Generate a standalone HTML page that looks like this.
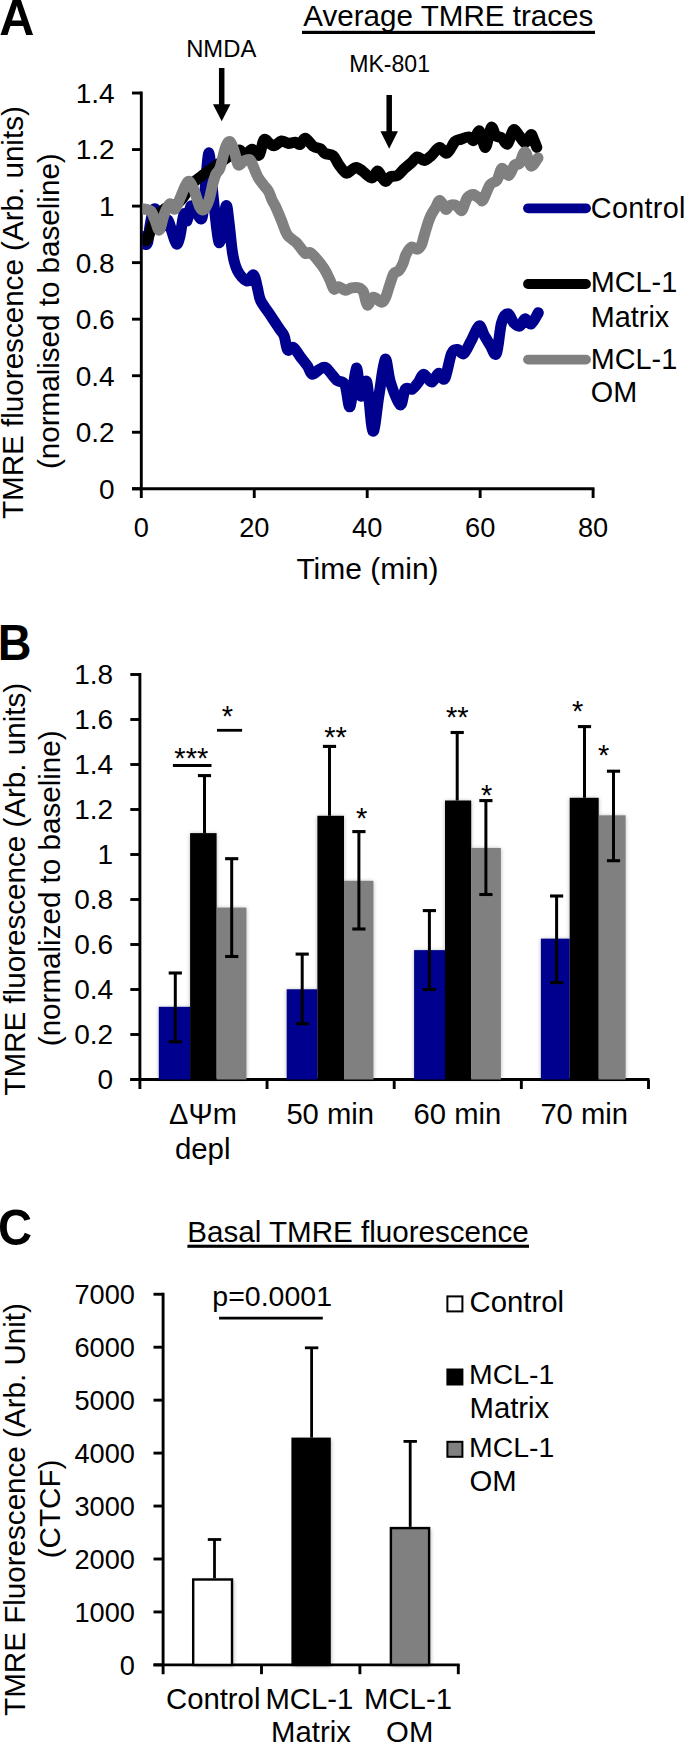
<!DOCTYPE html>
<html><head><meta charset="utf-8"><style>
html,body{margin:0;padding:0;background:#fff;}
svg{display:block;}
text{font-family:"Liberation Sans", sans-serif;fill:#000;}
</style></head><body>
<svg width="685" height="1745" viewBox="0 0 685 1745">
<defs><filter id="sh" x="-50%" y="-10%" width="200%" height="120%"><feGaussianBlur stdDeviation="2.2"/></filter>
<filter id="sh2" x="-50%" y="-10%" width="200%" height="120%"><feGaussianBlur stdDeviation="2.2"/></filter></defs>
<rect width="685" height="1745" fill="#fff"/>
<text transform="translate(-0.8,34.6) scale(1,1.04)" font-size="48.6" font-weight="bold">A</text>
<text x="303.3" y="26.3" font-size="29.6" text-anchor="start" font-weight="normal" >Average TMRE traces</text>
<rect x="302" y="30.8" width="293" height="3.2" fill="#000" />
<text x="186.2" y="57.2" font-size="23.8" text-anchor="start" font-weight="normal" >NMDA</text>
<rect x="218.95" y="68" width="5.5" height="37.2" fill="#000" />
<polygon points="212.95,104.2 230.45,104.2 221.7,121.3" fill="#000"/>
<text x="349.2" y="72.1" font-size="23.1" text-anchor="start" font-weight="normal" >MK-801</text>
<rect x="386.45" y="95" width="5.5" height="37.19999999999999" fill="#000" />
<polygon points="380.45,131.2 397.95,131.2 389.2,148.8" fill="#000"/>
<line x1="141.3" y1="91.62000000000009" x2="141.3" y2="498.0" stroke="#000" stroke-width="2.9" stroke-linecap="butt"/>
<line x1="132" y1="488.8" x2="594.5" y2="488.8" stroke="#000" stroke-width="2.9" stroke-linecap="butt"/>
<line x1="132" y1="488.8" x2="141.3" y2="488.8" stroke="#000" stroke-width="2.9" stroke-linecap="butt"/>
<text x="114.7" y="498.7" font-size="28" text-anchor="end" font-weight="normal" >0</text>
<line x1="132" y1="432.26" x2="141.3" y2="432.26" stroke="#000" stroke-width="2.9" stroke-linecap="butt"/>
<text x="114.7" y="442.15999999999997" font-size="28" text-anchor="end" font-weight="normal" >0.2</text>
<line x1="132" y1="375.72" x2="141.3" y2="375.72" stroke="#000" stroke-width="2.9" stroke-linecap="butt"/>
<text x="114.7" y="385.62" font-size="28" text-anchor="end" font-weight="normal" >0.4</text>
<line x1="132" y1="319.17999999999995" x2="141.3" y2="319.17999999999995" stroke="#000" stroke-width="2.9" stroke-linecap="butt"/>
<text x="114.7" y="329.0799999999999" font-size="28" text-anchor="end" font-weight="normal" >0.6</text>
<line x1="132" y1="262.64" x2="141.3" y2="262.64" stroke="#000" stroke-width="2.9" stroke-linecap="butt"/>
<text x="114.7" y="272.53999999999996" font-size="28" text-anchor="end" font-weight="normal" >0.8</text>
<line x1="132" y1="206.10000000000002" x2="141.3" y2="206.10000000000002" stroke="#000" stroke-width="2.9" stroke-linecap="butt"/>
<text x="114.7" y="216.00000000000003" font-size="28" text-anchor="end" font-weight="normal" >1</text>
<line x1="132" y1="149.55999999999995" x2="141.3" y2="149.55999999999995" stroke="#000" stroke-width="2.9" stroke-linecap="butt"/>
<text x="114.7" y="159.45999999999995" font-size="28" text-anchor="end" font-weight="normal" >1.2</text>
<line x1="132" y1="93.02000000000004" x2="141.3" y2="93.02000000000004" stroke="#000" stroke-width="2.9" stroke-linecap="butt"/>
<text x="114.7" y="102.92000000000004" font-size="28" text-anchor="end" font-weight="normal" >1.4</text>
<line x1="254.25" y1="488.8" x2="254.25" y2="498.0" stroke="#000" stroke-width="2.9" stroke-linecap="butt"/>
<line x1="367.20000000000005" y1="488.8" x2="367.20000000000005" y2="498.0" stroke="#000" stroke-width="2.9" stroke-linecap="butt"/>
<line x1="480.15000000000003" y1="488.8" x2="480.15000000000003" y2="498.0" stroke="#000" stroke-width="2.9" stroke-linecap="butt"/>
<line x1="593.1" y1="488.8" x2="593.1" y2="498.0" stroke="#000" stroke-width="2.9" stroke-linecap="butt"/>
<text x="141.3" y="537.3" font-size="27.2" text-anchor="middle" font-weight="normal" >0</text>
<text x="254.25" y="537.3" font-size="27.2" text-anchor="middle" font-weight="normal" >20</text>
<text x="367.20000000000005" y="537.3" font-size="27.2" text-anchor="middle" font-weight="normal" >40</text>
<text x="480.15000000000003" y="537.3" font-size="27.2" text-anchor="middle" font-weight="normal" >60</text>
<text x="593.1" y="537.3" font-size="27.2" text-anchor="middle" font-weight="normal" >80</text>
<text x="296.4" y="579.3" font-size="30" text-anchor="start" font-weight="normal" >Time (min)</text>
<text transform="translate(23.2,312.6) rotate(-90)" font-size="29.6" text-anchor="middle">TMRE fluorescence (Arb. units)</text>
<text transform="translate(59.2,311.2) rotate(-90)" font-size="29.6" text-anchor="middle">(normalised to baseline)</text>
<clipPath id="pa"><rect x="142.4" y="0" width="410" height="600"/></clipPath><g clip-path="url(#pa)">
<path d="M141.3,236 C141.8,237.2 143.0,241.8 144,243 C145.0,244.2 146.5,245.8 147.5,243 C148.5,240.2 149.0,231.5 150,226 C151.0,220.5 152.3,212.5 153.5,210 C154.7,207.5 155.9,209.0 157,211 C158.1,213.0 158.8,219.5 160,222 C161.2,224.5 162.7,226.3 164,226 C165.3,225.7 166.7,219.0 168,220 C169.3,221.0 170.6,228.0 172,232 C173.4,236.0 175.2,243.3 176.5,244 C177.8,244.7 178.8,241.0 180,236 C181.2,231.0 182.8,216.5 184,214 C185.2,211.5 185.8,222.3 187,221 C188.2,219.7 189.5,207.5 191,206 C192.5,204.5 194.2,210.0 196,212 C197.8,214.0 200.5,221.7 202,218 C203.5,214.3 203.8,200.8 205,190 C206.2,179.2 207.7,152.2 209,153 C210.3,153.8 211.5,180.8 213,195 C214.5,209.2 216.7,230.8 218,238 C219.3,245.2 219.7,243.3 221,238 C222.3,232.7 224.7,208.7 226,206 C227.3,203.3 227.9,214.0 229,222 C230.1,230.0 231.3,245.9 232.7,254 C234.1,262.1 235.1,265.9 237.4,270.4 C239.7,274.9 244.0,280.1 246.7,280.9 C249.4,281.7 251.9,274.0 253.7,275 C255.4,276.0 256.0,282.4 257.2,286.7 C258.4,291.0 258.5,296.0 260.7,300.7 C262.9,305.4 267.0,310.0 270.1,314.7 C273.2,319.4 277.1,325.3 279.4,328.8 C281.7,332.3 282.7,332.3 284.1,335.8 C285.5,339.3 286.1,347.9 287.6,349.8 C289.2,351.8 291.3,346.3 293.4,347.5 C295.5,348.7 298.0,353.7 300.4,356.8 C302.8,359.9 305.6,363.2 307.5,366.1 C309.4,369.0 310.2,373.7 312.1,374.3 C314.0,374.9 317.0,370.8 319.1,369.6 C321.2,368.4 323.1,366.7 325,367.3 C326.9,367.9 328.8,370.9 330.8,373.1 C332.8,375.3 334.6,378.4 337,380.4 C339.4,382.3 342.7,380.4 344.9,384.8 C347.1,389.2 348.2,409.4 350.1,406.6 C352.0,403.8 354.5,369.9 356.3,368.1 C358.1,366.4 358.9,393.8 360.7,396.1 C362.4,398.4 364.8,376.2 366.8,382.1 C368.8,388.0 370.9,429.1 372.9,431.2 C374.9,433.3 376.9,407.0 379,395 C381.1,383.0 383.3,361.4 385.2,359.3 C387.1,357.2 387.9,374.5 390.4,382.1 C392.9,389.7 397.6,403.7 400.1,404.9 C402.6,406.1 403.3,391.7 405.3,389.1 C407.3,386.5 410.1,390.3 412.3,389.1 C414.5,387.9 416.6,384.6 418.5,382.1 C420.4,379.6 421.5,374.2 423.7,374.2 C425.9,374.2 429.1,382.2 431.6,382.1 C434.1,382.0 436.4,374.0 438.6,373.4 C440.8,372.8 442.7,381.9 444.8,378.6 C446.9,375.3 449.4,358.5 451.5,353.6 C453.6,348.8 455.6,349.5 457.6,349.5 C459.6,349.5 461.5,355.0 463.7,353.6 C465.9,352.2 468.3,345.9 470.9,341.3 C473.4,336.7 476.8,327.0 479,326 C481.2,325.0 482.3,332.0 484.2,335.2 C486.1,338.4 488.3,342.3 490.3,345.4 C492.3,348.5 494.5,357.4 496.4,353.6 C498.3,349.9 499.6,329.5 501.5,322.9 C503.4,316.2 505.6,313.7 507.7,313.7 C509.8,313.7 511.8,320.8 513.8,322.9 C515.8,324.9 518.0,326.7 519.9,326 C521.8,325.3 523.1,319.2 525,318.8 C526.9,318.4 529.0,324.9 531.2,323.9 C533.4,322.9 537.1,314.6 538.3,312.7" fill="none" stroke="#00008e" stroke-width="11.0" stroke-linejoin="round" stroke-linecap="round"/>
<path d="M141.3,239 C141.4,238.8 141.1,237.8 142,238 C142.9,238.2 145.3,242.0 147,240 C148.7,238.0 150.5,230.0 152,226 C153.5,222.0 154.7,218.2 156,216 C157.3,213.8 158.3,214.3 160,213 C161.7,211.7 163.5,209.3 166,208 C168.5,206.7 172.3,206.5 175,205 C177.7,203.5 179.8,201.5 182,199 C184.2,196.5 186.2,192.7 188,190 C189.8,187.3 191.5,184.8 193,183 C194.5,181.2 195.3,180.8 197,179.5 C198.7,178.2 201.0,176.5 203,175 C205.0,173.5 207.0,171.9 209,170.5 C211.0,169.1 213.0,167.9 215,166.5 C217.0,165.1 218.8,163.6 221,162 C223.2,160.4 225.8,158.3 228,157 C230.2,155.7 232.1,155.2 234,154 C235.9,152.8 237.7,149.8 239.5,150 C241.3,150.2 242.9,155.1 245,155 C247.1,154.9 249.8,149.2 252.2,149.2 C254.6,149.2 257.2,156.6 259.2,155 C261.1,153.4 262.1,141.8 263.9,139.9 C265.6,138.0 267.9,142.4 269.7,143.4 C271.4,144.4 272.4,146.1 274.4,145.7 C276.3,145.3 279.1,141.4 281.4,141 C283.7,140.6 286.1,143.2 288.4,143.4 C290.7,143.6 293.4,142.0 295.4,142.2 C297.3,142.4 298.5,145.2 300.1,144.5 C301.7,143.8 303.0,137.9 305.2,138.2 C307.4,138.5 310.9,144.7 313.4,146.4 C315.9,148.2 318.5,147.5 320.4,148.7 C322.3,149.9 322.9,152.2 325,153.4 C327.1,154.6 330.9,153.8 333.2,155.7 C335.5,157.6 336.9,162.1 339,165 C341.1,167.9 344.0,172.4 346.1,173.2 C348.2,174.0 350.1,170.7 351.9,169.7 C353.6,168.7 354.9,167.2 356.6,167.4 C358.4,167.6 359.9,169.2 362.4,170.9 C364.9,172.7 369.3,177.9 371.8,177.9 C374.3,177.9 375.9,170.9 377.6,170.9 C379.4,170.9 380.9,176.2 382.3,177.9 C383.7,179.7 384.5,181.6 385.8,181.4 C387.1,181.2 388.4,177.7 390.4,176.7 C392.3,175.7 395.1,176.9 397.5,175.5 C399.9,174.1 402.2,170.6 404.5,168.5 C406.8,166.4 409.4,164.6 411.5,162.7 C413.6,160.8 415.2,157.3 417.3,156.9 C419.4,156.5 422.0,160.6 424.3,160.4 C426.6,160.2 428.8,157.8 431.3,155.7 C433.8,153.5 436.9,147.9 439.5,147.5 C442.1,147.1 444.3,154.2 446.9,153.2 C449.5,152.2 452.7,143.8 455,141.5 C457.3,139.2 458.6,140.0 460.9,139.2 C463.2,138.4 466.9,136.7 469,136.9 C471.1,137.1 471.9,141.4 473.7,140.4 C475.5,139.4 477.7,129.8 479.6,131 C481.6,132.2 483.5,148.0 485.4,147.4 C487.3,146.8 489.4,129.4 491.2,127.5 C492.9,125.5 494.1,133.9 495.9,135.7 C497.7,137.4 499.9,136.6 501.8,138 C503.8,139.4 505.7,145.2 507.6,143.9 C509.5,142.6 511.4,131.3 513.4,129.9 C515.3,128.5 517.3,133.6 519.3,135.7 C521.2,137.8 523.1,142.9 525.1,142.7 C527.1,142.5 529.5,134.9 531,134.5 C532.5,134.1 533.0,138.2 534,140.4 C535.0,142.6 536.3,146.2 536.8,147.4" fill="none" stroke="#000" stroke-width="11.0" stroke-linejoin="round" stroke-linecap="round"/>
<path d="M141.3,209 C141.8,209.0 142.4,208.7 144,209 C145.6,209.3 149.0,209.2 150.8,211 C152.6,212.8 153.6,216.8 155,220 C156.4,223.2 157.9,230.8 159.4,230 C160.9,229.2 162.3,219.3 164,215 C165.7,210.7 167.7,205.0 169.5,204 C171.3,203.0 173.1,210.3 175,209 C176.9,207.7 178.8,200.6 181,196 C183.2,191.4 185.8,182.5 188,181.5 C190.2,180.5 192.1,185.8 194,190 C195.9,194.2 198.0,203.6 199.7,206.8 C201.4,210.0 202.4,210.5 204,209.4 C205.6,208.3 207.5,204.4 209,200 C210.5,195.6 211.8,187.3 213,183 C214.2,178.7 214.8,176.5 216,174 C217.2,171.5 218.4,172.4 220,168 C221.6,163.6 223.8,151.9 225.5,147.5 C227.2,143.1 228.6,140.7 230.2,141.7 C231.8,142.7 233.6,149.5 234.9,153.4 C236.2,157.3 236.8,163.8 238.3,165 C239.8,166.2 242.1,161.8 244,160.9 C245.9,160.0 248.3,158.7 249.9,159.7 C251.5,160.7 252.1,163.8 253.4,166.7 C254.8,169.6 256.2,174.1 258,177.2 C259.8,180.3 262.1,183.1 263.9,185.4 C265.6,187.7 267.1,188.8 268.5,191.2 C269.9,193.6 270.8,197.3 272,200 C273.2,202.7 274.2,203.6 275.8,207.1 C277.4,210.6 279.8,216.4 281.7,221.1 C283.6,225.8 285.1,231.6 287.5,235.1 C289.9,238.6 293.7,240.1 295.8,242.1 C297.9,244.1 298.4,245.1 300,247 C301.6,248.9 303.6,252.4 305.3,253.4 C307.1,254.4 308.5,251.7 310.5,252.8 C312.5,253.9 315.2,257.2 317.5,259.9 C319.8,262.6 322.4,265.9 324.5,269.2 C326.6,272.5 328.2,276.4 329.8,279.7 C331.4,283.0 332.4,287.8 333.9,289 C335.3,290.2 336.6,286.5 338.5,286.7 C340.4,286.9 343.4,290.0 345.5,290.2 C347.6,290.4 349.1,288.3 351.4,287.9 C353.6,287.5 357.0,287.2 359,287.9 C361.0,288.6 362.1,289.1 363.5,292 C364.9,294.9 365.7,304.1 367.3,305 C368.9,305.9 371.0,297.6 373.4,297.2 C375.8,296.8 379.6,302.3 381.6,302.3 C383.7,302.3 384.4,300.1 385.7,297.2 C387.0,294.3 388.3,288.9 389.7,285 C391.1,281.1 392.3,276.1 393.8,273.7 C395.3,271.3 397.4,272.4 398.9,270.7 C400.4,269.0 401.8,266.2 403,263.5 C404.2,260.8 404.7,257.0 406.1,254.3 C407.5,251.6 409.3,248.0 411.2,247.2 C413.1,246.3 415.6,249.6 417.3,249.2 C419.0,248.8 420.3,247.1 421.4,245 C422.5,242.9 422.7,240.7 423.8,236.9 C424.9,233.1 427.0,226.0 428.2,222.3 C429.4,218.7 429.9,217.4 431.1,215 C432.3,212.6 434.0,210.1 435.5,207.7 C437.0,205.3 438.2,200.2 439.9,200.4 C441.6,200.7 444.2,208.3 445.7,209.2 C447.2,210.1 447.8,206.7 449,206 C450.2,205.3 451.7,204.8 453,204.8 C454.3,204.8 455.5,205.0 457,206 C458.5,207.0 460.5,211.2 461.8,210.7 C463.1,210.2 464.0,205.2 465,203 C466.0,200.8 466.2,198.9 467.6,197.5 C469.0,196.1 471.3,194.3 473.4,194.6 C475.5,194.8 478.4,198.1 480,199 C481.6,199.9 481.4,202.3 483.1,199.9 C484.8,197.5 487.8,188.0 490.1,184.7 C492.4,181.4 495.2,182.8 497.1,180.1 C499.1,177.4 499.9,169.2 501.8,168.4 C503.8,167.6 506.7,176.0 508.8,175.4 C510.9,174.8 512.9,166.9 514.6,164.9 C516.4,162.9 517.5,165.8 519.3,163.7 C521.0,161.5 523.1,151.6 525.1,152 C527.1,152.4 528.9,165.0 531,166 C533.1,167.0 536.8,159.2 538,157.9" fill="none" stroke="#808080" stroke-width="11.0" stroke-linejoin="round" stroke-linecap="round"/>
</g>
<line x1="528" y1="208.3" x2="586" y2="208.3" stroke="#00008e" stroke-width="9.8" stroke-linecap="round"/>
<line x1="528" y1="284" x2="586" y2="284" stroke="#000" stroke-width="9.8" stroke-linecap="round"/>
<line x1="528" y1="359.6" x2="586" y2="359.6" stroke="#808080" stroke-width="9.8" stroke-linecap="round"/>
<text x="590.8" y="217.6" font-size="28.8" text-anchor="start" font-weight="normal" letter-spacing="0.3">Control</text>
<text x="590.8" y="292.4" font-size="28.8" text-anchor="start" font-weight="normal" >MCL-1</text>
<text x="590.8" y="326.8" font-size="28.8" text-anchor="start" font-weight="normal" >Matrix</text>
<text x="590.8" y="368.6" font-size="28.8" text-anchor="start" font-weight="normal" >MCL-1</text>
<text x="590.8" y="402.4" font-size="28.8" text-anchor="start" font-weight="normal" >OM</text>
<text transform="translate(-2.2,659.5) scale(1,1.05)" font-size="46.7" font-weight="bold">B</text>
<line x1="139.9" y1="673.1" x2="139.9" y2="1089.0" stroke="#000" stroke-width="2.9" stroke-linecap="butt"/>
<line x1="130.3" y1="1079.5" x2="649.4" y2="1079.5" stroke="#000" stroke-width="2.9" stroke-linecap="butt"/>
<line x1="130.3" y1="1079.5" x2="139.9" y2="1079.5" stroke="#000" stroke-width="2.9" stroke-linecap="butt"/>
<text x="113.1" y="1089.1" font-size="28" text-anchor="end" font-weight="normal" >0</text>
<line x1="130.3" y1="1034.5" x2="139.9" y2="1034.5" stroke="#000" stroke-width="2.9" stroke-linecap="butt"/>
<text x="113.1" y="1044.1" font-size="28" text-anchor="end" font-weight="normal" >0.2</text>
<line x1="130.3" y1="989.5" x2="139.9" y2="989.5" stroke="#000" stroke-width="2.9" stroke-linecap="butt"/>
<text x="113.1" y="999.1" font-size="28" text-anchor="end" font-weight="normal" >0.4</text>
<line x1="130.3" y1="944.5" x2="139.9" y2="944.5" stroke="#000" stroke-width="2.9" stroke-linecap="butt"/>
<text x="113.1" y="954.1" font-size="28" text-anchor="end" font-weight="normal" >0.6</text>
<line x1="130.3" y1="899.5" x2="139.9" y2="899.5" stroke="#000" stroke-width="2.9" stroke-linecap="butt"/>
<text x="113.1" y="909.1" font-size="28" text-anchor="end" font-weight="normal" >0.8</text>
<line x1="130.3" y1="854.5" x2="139.9" y2="854.5" stroke="#000" stroke-width="2.9" stroke-linecap="butt"/>
<text x="113.1" y="864.1" font-size="28" text-anchor="end" font-weight="normal" >1</text>
<line x1="130.3" y1="809.5" x2="139.9" y2="809.5" stroke="#000" stroke-width="2.9" stroke-linecap="butt"/>
<text x="113.1" y="819.1" font-size="28" text-anchor="end" font-weight="normal" >1.2</text>
<line x1="130.3" y1="764.5" x2="139.9" y2="764.5" stroke="#000" stroke-width="2.9" stroke-linecap="butt"/>
<text x="113.1" y="774.1" font-size="28" text-anchor="end" font-weight="normal" >1.4</text>
<line x1="130.3" y1="719.5" x2="139.9" y2="719.5" stroke="#000" stroke-width="2.9" stroke-linecap="butt"/>
<text x="113.1" y="729.1" font-size="28" text-anchor="end" font-weight="normal" >1.6</text>
<line x1="130.3" y1="674.5" x2="139.9" y2="674.5" stroke="#000" stroke-width="2.9" stroke-linecap="butt"/>
<text x="113.1" y="684.1" font-size="28" text-anchor="end" font-weight="normal" >1.8</text>
<line x1="267.05" y1="1079.5" x2="267.05" y2="1089.0" stroke="#000" stroke-width="2.9" stroke-linecap="butt"/>
<line x1="394.20000000000005" y1="1079.5" x2="394.20000000000005" y2="1089.0" stroke="#000" stroke-width="2.9" stroke-linecap="butt"/>
<line x1="521.35" y1="1079.5" x2="521.35" y2="1089.0" stroke="#000" stroke-width="2.9" stroke-linecap="butt"/>
<line x1="648.5" y1="1079.5" x2="648.5" y2="1089.0" stroke="#000" stroke-width="2.9" stroke-linecap="butt"/>
<text transform="translate(24.6,889.3) rotate(-90)" font-size="29.6" text-anchor="middle">TMRE fluorescence (Arb. units)</text>
<text transform="translate(60.1,888.3) rotate(-90)" font-size="29.6" text-anchor="middle">(normalized to baseline)</text>
<rect x="158.8" y="1007.325" width="31.299999999999983" height="72.17499999999995" fill="#000" opacity="0.28" filter="url(#sh2)"/>
<rect x="190.1" y="833.625" width="26.5" height="245.875" fill="#000" opacity="0.28" filter="url(#sh2)"/>
<rect x="216.6" y="908.1" width="29.80000000000001" height="171.39999999999998" fill="#000" opacity="0.28" filter="url(#sh2)"/>
<rect x="286.7" y="989.775" width="30.69999999999999" height="89.72500000000002" fill="#000" opacity="0.28" filter="url(#sh2)"/>
<rect x="317.4" y="816.3" width="26.600000000000023" height="263.20000000000005" fill="#000" opacity="0.28" filter="url(#sh2)"/>
<rect x="344" y="881.325" width="29.399999999999977" height="198.17499999999995" fill="#000" opacity="0.28" filter="url(#sh2)"/>
<rect x="414.1" y="950.625" width="30.899999999999977" height="128.875" fill="#000" opacity="0.28" filter="url(#sh2)"/>
<rect x="445" y="801.0" width="26.19999999999999" height="278.5" fill="#000" opacity="0.28" filter="url(#sh2)"/>
<rect x="471.2" y="848.475" width="29.69999999999999" height="231.02499999999998" fill="#000" opacity="0.28" filter="url(#sh2)"/>
<rect x="540.9" y="939.15" width="28.800000000000068" height="140.35000000000002" fill="#000" opacity="0.28" filter="url(#sh2)"/>
<rect x="569.7" y="798.3" width="29.0" height="281.20000000000005" fill="#000" opacity="0.28" filter="url(#sh2)"/>
<rect x="598.7" y="815.85" width="26.899999999999977" height="263.65" fill="#000" opacity="0.28" filter="url(#sh2)"/>
<rect x="158.8" y="1006.825" width="31.299999999999983" height="72.67499999999995" fill="#00008e" />
<rect x="190.1" y="833.125" width="26.5" height="246.375" fill="#000" />
<rect x="216.6" y="907.6" width="29.80000000000001" height="171.89999999999998" fill="#808080" />
<line x1="175.3" y1="973" x2="175.3" y2="1041.8" stroke="#000" stroke-width="3.0" stroke-linecap="butt"/>
<line x1="168.70000000000002" y1="973" x2="181.9" y2="973" stroke="#000" stroke-width="3.1" stroke-linecap="butt"/>
<line x1="168.70000000000002" y1="1041.8" x2="181.9" y2="1041.8" stroke="#000" stroke-width="3.1" stroke-linecap="butt"/>
<line x1="204.5" y1="775.6" x2="204.5" y2="833.125" stroke="#000" stroke-width="3.0" stroke-linecap="butt"/>
<line x1="197.9" y1="775.6" x2="211.1" y2="775.6" stroke="#000" stroke-width="3.1" stroke-linecap="butt"/>
<line x1="231.7" y1="858.7" x2="231.7" y2="956.5" stroke="#000" stroke-width="3.0" stroke-linecap="butt"/>
<line x1="225.1" y1="858.7" x2="238.29999999999998" y2="858.7" stroke="#000" stroke-width="3.1" stroke-linecap="butt"/>
<line x1="225.1" y1="956.5" x2="238.29999999999998" y2="956.5" stroke="#000" stroke-width="3.1" stroke-linecap="butt"/>
<rect x="286.7" y="989.275" width="30.69999999999999" height="90.22500000000002" fill="#00008e" />
<rect x="317.4" y="815.8" width="26.600000000000023" height="263.70000000000005" fill="#000" />
<rect x="344" y="880.825" width="29.399999999999977" height="198.67499999999995" fill="#808080" />
<line x1="302.2" y1="954.1" x2="302.2" y2="1023.7" stroke="#000" stroke-width="3.0" stroke-linecap="butt"/>
<line x1="295.59999999999997" y1="954.1" x2="308.8" y2="954.1" stroke="#000" stroke-width="3.1" stroke-linecap="butt"/>
<line x1="295.59999999999997" y1="1023.7" x2="308.8" y2="1023.7" stroke="#000" stroke-width="3.1" stroke-linecap="butt"/>
<line x1="329.5" y1="746.4" x2="329.5" y2="815.8" stroke="#000" stroke-width="3.0" stroke-linecap="butt"/>
<line x1="322.9" y1="746.4" x2="336.1" y2="746.4" stroke="#000" stroke-width="3.1" stroke-linecap="butt"/>
<line x1="358.9" y1="831.6" x2="358.9" y2="929" stroke="#000" stroke-width="3.0" stroke-linecap="butt"/>
<line x1="352.29999999999995" y1="831.6" x2="365.5" y2="831.6" stroke="#000" stroke-width="3.1" stroke-linecap="butt"/>
<line x1="352.29999999999995" y1="929" x2="365.5" y2="929" stroke="#000" stroke-width="3.1" stroke-linecap="butt"/>
<rect x="414.1" y="950.125" width="30.899999999999977" height="129.375" fill="#00008e" />
<rect x="445" y="800.5" width="26.19999999999999" height="279.0" fill="#000" />
<rect x="471.2" y="847.975" width="29.69999999999999" height="231.52499999999998" fill="#808080" />
<line x1="429.4" y1="910.6" x2="429.4" y2="989.5" stroke="#000" stroke-width="3.0" stroke-linecap="butt"/>
<line x1="422.79999999999995" y1="910.6" x2="436.0" y2="910.6" stroke="#000" stroke-width="3.1" stroke-linecap="butt"/>
<line x1="422.79999999999995" y1="989.5" x2="436.0" y2="989.5" stroke="#000" stroke-width="3.1" stroke-linecap="butt"/>
<line x1="457.2" y1="732.5" x2="457.2" y2="800.5" stroke="#000" stroke-width="3.0" stroke-linecap="butt"/>
<line x1="450.59999999999997" y1="732.5" x2="463.8" y2="732.5" stroke="#000" stroke-width="3.1" stroke-linecap="butt"/>
<line x1="485.9" y1="800.6" x2="485.9" y2="894.5" stroke="#000" stroke-width="3.0" stroke-linecap="butt"/>
<line x1="479.29999999999995" y1="800.6" x2="492.5" y2="800.6" stroke="#000" stroke-width="3.1" stroke-linecap="butt"/>
<line x1="479.29999999999995" y1="894.5" x2="492.5" y2="894.5" stroke="#000" stroke-width="3.1" stroke-linecap="butt"/>
<rect x="540.9" y="938.65" width="28.800000000000068" height="140.85000000000002" fill="#00008e" />
<rect x="569.7" y="797.8" width="29.0" height="281.70000000000005" fill="#000" />
<rect x="598.7" y="815.35" width="26.899999999999977" height="264.15" fill="#808080" />
<line x1="556.6" y1="896" x2="556.6" y2="982.6" stroke="#000" stroke-width="3.0" stroke-linecap="butt"/>
<line x1="550.0" y1="896" x2="563.2" y2="896" stroke="#000" stroke-width="3.1" stroke-linecap="butt"/>
<line x1="550.0" y1="982.6" x2="563.2" y2="982.6" stroke="#000" stroke-width="3.1" stroke-linecap="butt"/>
<line x1="584.5" y1="726.6" x2="584.5" y2="797.8" stroke="#000" stroke-width="3.0" stroke-linecap="butt"/>
<line x1="577.9" y1="726.6" x2="591.1" y2="726.6" stroke="#000" stroke-width="3.1" stroke-linecap="butt"/>
<line x1="613.5" y1="771.2" x2="613.5" y2="860.7" stroke="#000" stroke-width="3.0" stroke-linecap="butt"/>
<line x1="606.9" y1="771.2" x2="620.1" y2="771.2" stroke="#000" stroke-width="3.1" stroke-linecap="butt"/>
<line x1="606.9" y1="860.7" x2="620.1" y2="860.7" stroke="#000" stroke-width="3.1" stroke-linecap="butt"/>
<text x="203" y="1123.6" font-size="29" text-anchor="middle" font-weight="normal" >&#916;&#936;m</text>
<text x="202.7" y="1159.4" font-size="29.4" text-anchor="middle" font-weight="normal" >depl</text>
<text x="330.2" y="1124.3" font-size="29.2" text-anchor="middle" font-weight="normal" >50 min</text>
<text x="457.4" y="1124.3" font-size="29.2" text-anchor="middle" font-weight="normal" >60 min</text>
<text x="584.2" y="1124.3" font-size="29.2" text-anchor="middle" font-weight="normal" >70 min</text>
<line x1="172.9" y1="765.5" x2="211.5" y2="765.5" stroke="#000" stroke-width="2.8" stroke-linecap="butt"/>
<line x1="217" y1="730.3" x2="242.1" y2="730.3" stroke="#000" stroke-width="2.8" stroke-linecap="butt"/>
<text x="191.3" y="767.5" font-size="29" text-anchor="middle" font-weight="normal" >***</text>
<text x="227.3" y="725.9" font-size="29" text-anchor="middle" font-weight="normal" >*</text>
<text x="335.5" y="747.0" font-size="29" text-anchor="middle" font-weight="normal" >**</text>
<text x="361.7" y="827.8" font-size="29" text-anchor="middle" font-weight="normal" >*</text>
<text x="457.3" y="726.8" font-size="29" text-anchor="middle" font-weight="normal" >**</text>
<text x="486.7" y="804.8" font-size="29" text-anchor="middle" font-weight="normal" >*</text>
<text x="577.7" y="721.3" font-size="29" text-anchor="middle" font-weight="normal" >*</text>
<text x="603.7" y="764.5" font-size="29" text-anchor="middle" font-weight="normal" >*</text>
<text transform="translate(-1.9,1244.8) scale(1,1.07)" font-size="47.2" font-weight="bold">C</text>
<text x="187.2" y="1241.9" font-size="29.6" text-anchor="start" font-weight="normal" >Basal TMRE fluorescence</text>
<rect x="187.4" y="1244.7" width="341.6" height="3.1" fill="#000" />
<line x1="163.1" y1="1292.85" x2="163.1" y2="1674.2" stroke="#000" stroke-width="2.9" stroke-linecap="butt"/>
<line x1="153.5" y1="1664.9" x2="459.7" y2="1664.9" stroke="#000" stroke-width="2.9" stroke-linecap="butt"/>
<line x1="153.5" y1="1664.9" x2="163.1" y2="1664.9" stroke="#000" stroke-width="2.9" stroke-linecap="butt"/>
<text x="134.9" y="1674.6000000000001" font-size="27.2" text-anchor="end" font-weight="normal" >0</text>
<line x1="153.5" y1="1611.95" x2="163.1" y2="1611.95" stroke="#000" stroke-width="2.9" stroke-linecap="butt"/>
<text x="134.9" y="1621.65" font-size="27.2" text-anchor="end" font-weight="normal" >1000</text>
<line x1="153.5" y1="1559.0" x2="163.1" y2="1559.0" stroke="#000" stroke-width="2.9" stroke-linecap="butt"/>
<text x="134.9" y="1568.7" font-size="27.2" text-anchor="end" font-weight="normal" >2000</text>
<line x1="153.5" y1="1506.0500000000002" x2="163.1" y2="1506.0500000000002" stroke="#000" stroke-width="2.9" stroke-linecap="butt"/>
<text x="134.9" y="1515.7500000000002" font-size="27.2" text-anchor="end" font-weight="normal" >3000</text>
<line x1="153.5" y1="1453.1000000000001" x2="163.1" y2="1453.1000000000001" stroke="#000" stroke-width="2.9" stroke-linecap="butt"/>
<text x="134.9" y="1462.8000000000002" font-size="27.2" text-anchor="end" font-weight="normal" >4000</text>
<line x1="153.5" y1="1400.15" x2="163.1" y2="1400.15" stroke="#000" stroke-width="2.9" stroke-linecap="butt"/>
<text x="134.9" y="1409.8500000000001" font-size="27.2" text-anchor="end" font-weight="normal" >5000</text>
<line x1="153.5" y1="1347.2" x2="163.1" y2="1347.2" stroke="#000" stroke-width="2.9" stroke-linecap="butt"/>
<text x="134.9" y="1356.9" font-size="27.2" text-anchor="end" font-weight="normal" >6000</text>
<line x1="153.5" y1="1294.25" x2="163.1" y2="1294.25" stroke="#000" stroke-width="2.9" stroke-linecap="butt"/>
<text x="134.9" y="1303.95" font-size="27.2" text-anchor="end" font-weight="normal" >7000</text>
<line x1="261.5" y1="1664.9" x2="261.5" y2="1674.2" stroke="#000" stroke-width="2.9" stroke-linecap="butt"/>
<line x1="359.9" y1="1664.9" x2="359.9" y2="1674.2" stroke="#000" stroke-width="2.9" stroke-linecap="butt"/>
<line x1="458.30000000000007" y1="1664.9" x2="458.30000000000007" y2="1674.2" stroke="#000" stroke-width="2.9" stroke-linecap="butt"/>
<text transform="translate(24.8,1509.5) rotate(-90)" font-size="29.6" text-anchor="middle">TMRE Fluorescence (Arb. Unit)</text>
<text transform="translate(60.2,1509) rotate(-90)" font-size="29.6" text-anchor="middle">(CTCF)</text>
<rect x="194.7" y="1580.5" width="38.79999999999999" height="85.40000000000013" fill="#000" opacity="0.3" filter="url(#sh)"/>
<rect x="294.09999999999997" y="1439.8" width="37.000000000000036" height="226.1000000000002" fill="#000" opacity="0.3" filter="url(#sh)"/>
<rect x="392.4" y="1529.1000000000001" width="38.200000000000024" height="136.8" fill="#000" opacity="0.3" filter="url(#sh)"/>
<line x1="214.5" y1="1539.5" x2="214.5" y2="1578.3" stroke="#000" stroke-width="2.8" stroke-linecap="butt"/>
<line x1="207.8" y1="1539.5" x2="221.2" y2="1539.5" stroke="#000" stroke-width="2.8" stroke-linecap="butt"/>
<rect x="193.2" y="1579.5" width="38.79999999999999" height="85.40000000000013" fill="#fff" stroke="#000" stroke-width="2.4" />
<line x1="311.6" y1="1347.8" x2="311.6" y2="1437.6" stroke="#000" stroke-width="2.8" stroke-linecap="butt"/>
<line x1="304.90000000000003" y1="1347.8" x2="318.3" y2="1347.8" stroke="#000" stroke-width="2.8" stroke-linecap="butt"/>
<rect x="292.59999999999997" y="1438.8" width="37.000000000000036" height="226.1000000000002" fill="#000" stroke="#000" stroke-width="2.4" />
<line x1="410.2" y1="1441.4" x2="410.2" y2="1526.9" stroke="#000" stroke-width="2.8" stroke-linecap="butt"/>
<line x1="403.5" y1="1441.4" x2="416.9" y2="1441.4" stroke="#000" stroke-width="2.8" stroke-linecap="butt"/>
<rect x="390.9" y="1528.1000000000001" width="38.200000000000024" height="136.8" fill="#808080" stroke="#000" stroke-width="2.4" />
<line x1="219.1" y1="1318.1" x2="322.8" y2="1318.1" stroke="#000" stroke-width="2.8" stroke-linecap="butt"/>
<text x="272.2" y="1306.4" font-size="28.5" text-anchor="middle" font-weight="normal" >p=0.0001</text>
<rect x="447.4" y="1296.4" width="15" height="15" fill="#fff" stroke="#000" stroke-width="2" />
<rect x="447.4" y="1369.5" width="15" height="15" fill="#000" stroke="#000" stroke-width="2" />
<rect x="447.4" y="1441.8" width="15" height="15" fill="#808080" stroke="#000" stroke-width="2" />
<text x="469.5" y="1312.3" font-size="29.3" text-anchor="start" font-weight="normal" >Control</text>
<text x="469" y="1384" font-size="28.4" text-anchor="start" font-weight="normal" >MCL-1</text>
<text x="469.5" y="1417.7" font-size="29.3" text-anchor="start" font-weight="normal" >Matrix</text>
<text x="469" y="1456.9" font-size="28.4" text-anchor="start" font-weight="normal" >MCL-1</text>
<text x="469.5" y="1490.5" font-size="29.3" text-anchor="start" font-weight="normal" >OM</text>
<text x="213.2" y="1708.5" font-size="29.3" text-anchor="middle" font-weight="normal" >Control</text>
<text x="309.4" y="1708.5" font-size="29.3" text-anchor="middle" font-weight="normal" >MCL-1</text>
<text x="311" y="1742.3" font-size="29.3" text-anchor="middle" font-weight="normal" >Matrix</text>
<text x="408" y="1708.5" font-size="29.3" text-anchor="middle" font-weight="normal" >MCL-1</text>
<text x="409.7" y="1742.3" font-size="29.3" text-anchor="middle" font-weight="normal" >OM</text>
</svg>
</body></html>
